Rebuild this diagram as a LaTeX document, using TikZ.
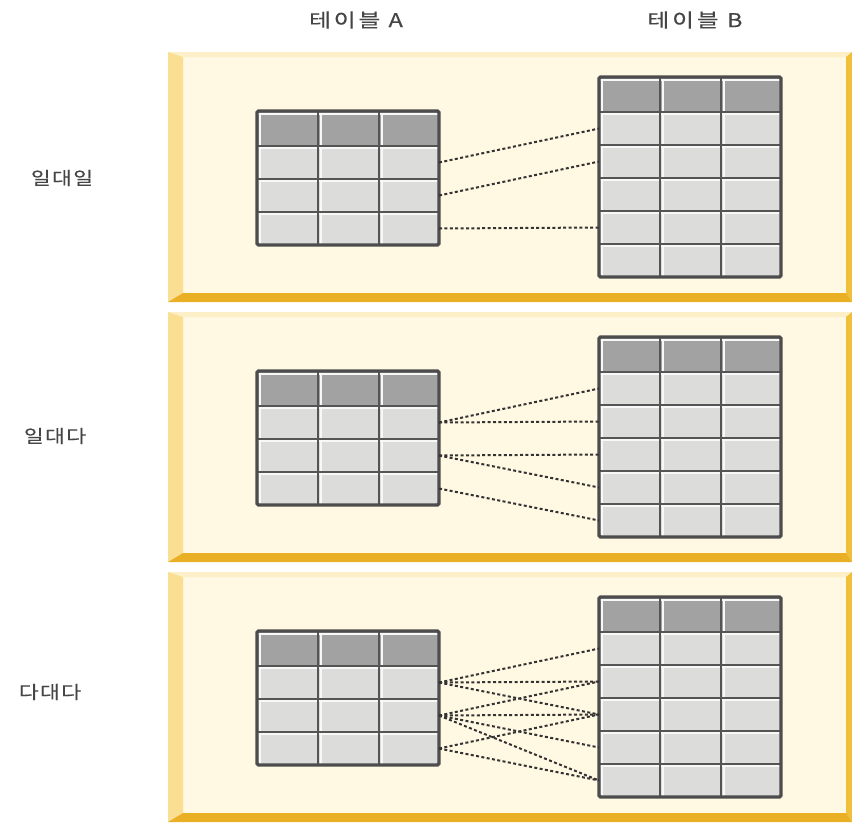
\documentclass[tikz,border=0pt]{standalone}
\usepackage{graphicx}
\usepackage{fontspec}
\newfontfamily\krhead{Noto Sans CJK KR}[LetterSpace=12,FakeBold=0.15]
\newfontfamily\krrow{Noto Sans CJK KR}[LetterSpace=6,FakeBold=0.15]
\definecolor{panelbg}{HTML}{FFF8E2}
\definecolor{ptop}{HTML}{FDF0C8}
\definecolor{pleft}{HTML}{FADF92}
\definecolor{pright}{HTML}{F0BF3C}
\definecolor{pbottom}{HTML}{E9B026}
\definecolor{headfill}{HTML}{A2A2A2}
\definecolor{cellfill}{HTML}{DCDCDA}
\definecolor{gridc}{HTML}{555555}
\definecolor{outerc}{HTML}{4D4D4D}
\definecolor{labgray}{HTML}{454545}
\definecolor{connc}{HTML}{333333}
\tikzset{
  headlab/.style={font=\krhead\fontsize{19}{22}\selectfont, text=labgray, inner sep=0pt},
  rowlab/.style={font=\krrow\fontsize{18}{22}\selectfont, text=labgray, inner sep=0pt},
  gridline/.style={draw=gridc, line width=1.8pt},
  outerline/.style={draw=outerc, line width=3.4pt, rounded corners=1.5pt},
  hlline/.style={draw=white!80!cellfill, line width=1.6pt},
  rowbox/.style={rectangle, minimum width=182pt, minimum height=33pt, inner sep=0pt, outer sep=0pt},
  conn/.style={draw=connc, line width=2pt, dash pattern=on 3pt off 2.4pt},
}
\newcommand{\panelbox}[1]{%
  \fill[panelbg] (168,#1) rectangle (852,#1+250);
  \fill[ptop] (168,#1) -- (852,#1) -- (846,#1+5) -- (183,#1+5) -- cycle;
  \fill[pleft] (168,#1) -- (183,#1+5) -- (183,#1+241) -- (168,#1+250) -- cycle;
  \fill[pright] (852,#1) -- (852,#1+250) -- (846,#1+241) -- (846,#1+5) -- cycle;
  \fill[pbottom] (168,#1+250) -- (183,#1+241) -- (846,#1+241) -- (852,#1+250) -- cycle;
}
\newcommand{\dbtab}[4]{%
  \begin{scope}[shift={(#1,#2)}]
    \pgfmathsetmacro{\tH}{35+33*#3}
    \fill[cellfill] (0,0) rectangle (182,\tH);
    \fill[headfill] (0,0) rectangle (182,35);
    \foreach \cx in {0,61,122}{
      \draw[hlline] (\cx+3,2) -- (\cx+3,\tH);
    }
    \draw[hlline] (0,3) -- (182,3);
    \foreach \r in {1,...,#3}{
      \draw[hlline] (0,35+33*\r-33+2) -- (182,35+33*\r-33+2);
    }
    \foreach \cx in {61,122}{
      \draw[gridline] (\cx,0) -- (\cx,\tH);
    }
    \foreach \r in {1,...,#3}{
      \draw[gridline] (0,35+33*\r-33) -- (182,35+33*\r-33);
    }
    \draw[outerline] (0,0) rectangle (182,\tH);
    \foreach \r in {1,...,#3}{
      \node[rowbox] (#4\r) at (91,35+33*\r-16.5) {};
    }
  \end{scope}
}
\begin{document}
\begin{tikzpicture}[x=1pt,y=-1pt]
\useasboundingbox (0,0) rectangle (852,823);
\fill[white] (0,0) rectangle (852,823);

\panelbox{52}
\panelbox{312}
\panelbox{572}

\dbtab{257}{111}{3}{pa}
\dbtab{599}{77}{5}{pb}
\dbtab{257}{371}{3}{qa}
\dbtab{599}{337}{5}{qb}
\dbtab{257}{631}{3}{ra}
\dbtab{599}{597}{5}{rb}

\node[headlab] (hA) at (356,20) {\scalebox{1.25}[1]{테이블 A}};
\node[headlab] (hB) at (695,20) {\scalebox{1.25}[1]{테이블 B}};
\node[rowlab] (l1) at (62,178) {\scalebox{1.2}[1]{일대일}};
\node[rowlab] (l2) at (55,436) {\scalebox{1.2}[1]{일대다}};
\node[rowlab] (l3) at (50,692) {\scalebox{1.2}[1]{다대다}};

% one to one
\draw[conn] (pa1.east) -- (pb1.west);
\draw[conn] (pa2.east) -- (pb2.west);
\draw[conn] (pa3.east) -- (pb4.west);
% one to many
\draw[conn] (qa1.east) -- (qb1.west);
\draw[conn] (qa1.east) -- (qb2.west);
\draw[conn] (qa2.east) -- (qb3.west);
\draw[conn] (qa2.east) -- (qb4.west);
\draw[conn] (qa3.east) -- (qb5.west);
% many to many
\draw[conn] (ra1.east) -- (rb1.west);
\draw[conn] (ra1.east) -- (rb2.west);
\draw[conn] (ra1.east) -- (rb3.west);
\draw[conn] (ra2.east) -- (rb2.west);
\draw[conn] (ra2.east) -- (rb3.west);
\draw[conn] (ra2.east) -- (rb4.west);
\draw[conn] (ra2.east) -- (rb5.west);
\draw[conn] (ra3.east) -- (rb3.west);
\draw[conn] (ra3.east) -- (rb5.west);
\end{tikzpicture}
\end{document}
